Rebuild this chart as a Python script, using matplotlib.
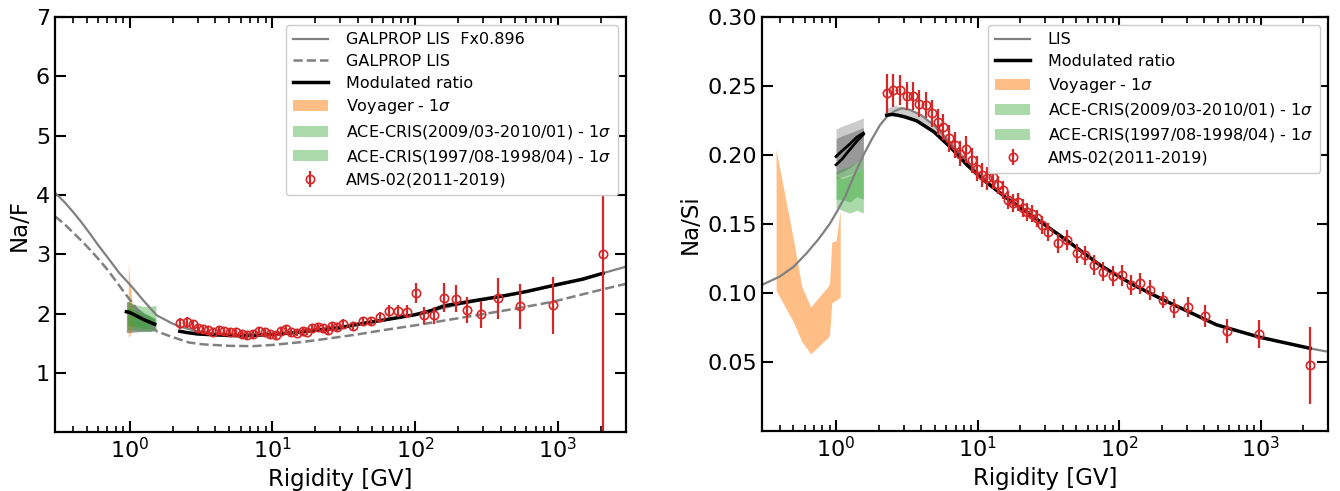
import matplotlib
matplotlib.use('Agg')
import matplotlib.pyplot as plt
import numpy as np

# ---------------- Na/F panel ----------------
lisF_r = [0.3, 0.35, 0.4, 0.46, 0.527, 0.6, 0.7, 0.85, 1.04, 1.25, 1.55, 2.0, 2.25, 3, 4, 6, 10, 20, 50, 100, 200, 500, 1000, 2000, 3000]
lisF_scaled = [4.04, 3.88, 3.72, 3.54, 3.35, 3.16, 2.95, 2.68, 2.45, 2.22, 1.97, 1.83, 1.78, 1.70, 1.66, 1.64, 1.65, 1.72, 1.85, 1.98, 2.15, 2.33, 2.48, 2.67, 2.79]

lisF_dash_r = [0.3, 0.35, 0.4, 0.46, 0.527, 0.6, 0.7, 0.95, 1.25, 1.55, 1.96, 2.62, 3.28, 5, 7.35, 10, 16.3, 25, 40, 60, 100, 232, 500, 929, 2080, 3000]
lisF_dash = [3.64, 3.51, 3.37, 3.23, 3.08, 2.93, 2.74, 2.31, 1.93, 1.70, 1.61, 1.51, 1.48, 1.455, 1.45, 1.47, 1.52, 1.58, 1.65, 1.72, 1.80, 1.945, 2.08, 2.20, 2.41, 2.50]

modF_r = [2.25, 2.6, 3, 4, 5, 6, 8, 10, 13, 16, 20, 25, 30, 40, 50, 60, 80, 100, 130, 160, 200, 250, 400, 600, 1000, 1500, 2080]
modF = [1.70, 1.675, 1.655, 1.64, 1.63, 1.625, 1.635, 1.65, 1.67, 1.69, 1.72, 1.74, 1.76, 1.82, 1.86, 1.89, 1.94, 1.98, 2.05, 2.13, 2.17, 2.21, 2.29, 2.37, 2.49, 2.58, 2.68]

# modulated ratio at ACE energies
aceF_r = [0.95, 1.0, 1.1, 1.25, 1.4, 1.5]
aceF_mod = [2.03, 2.02, 1.97, 1.90, 1.85, 1.82]
aceF_gray_lo = [1.68, 1.68, 1.69, 1.70, 1.70, 1.71]
aceF_gray_hi = [2.20, 2.20, 2.12, 2.02, 1.95, 1.90]

aceF_band_r = [0.97, 1.1, 1.25, 1.4, 1.53]
aceF_a_lo = [1.72, 1.72, 1.70, 1.70, 1.72]
aceF_a_hi = [2.10, 2.05, 2.00, 1.96, 1.92]
aceF_b_lo = [1.80, 1.78, 1.75, 1.74, 1.73]
aceF_b_hi = [2.20, 2.15, 2.12, 2.12, 2.14]

voyF_r = [0.98, 1.0, 1.04]
voyF_lo = [1.60, 1.62, 1.75]
voyF_hi = [2.87, 2.60, 2.20]

amsF_r = [2.25, 2.51, 2.77, 3.03, 3.28, 3.56, 3.86, 4.25, 4.58, 5.05, 5.56, 6.1, 6.67, 7.35, 8.1,
          8.87, 9.6, 10.6, 11.6, 12.4, 13.6, 14.8, 16.3, 17.5, 19.1, 21.0, 22.7, 24.4, 26.3, 28.5,
          31.5, 36.8, 43, 49.5, 57, 66, 76, 87.5, 101, 116, 136, 160, 193, 232, 292, 382, 548, 929, 2080]
amsF = [1.833, 1.850, 1.816, 1.749, 1.732, 1.72, 1.692, 1.72, 1.703, 1.692, 1.687, 1.653, 1.636, 1.647, 1.709,
        1.687, 1.647, 1.636, 1.703, 1.732, 1.687, 1.675, 1.703, 1.692, 1.76, 1.78, 1.75, 1.715, 1.79, 1.77,
        1.83, 1.79, 1.88, 1.87, 1.945, 2.04, 2.04, 2.03, 2.34, 1.97, 1.97, 2.27, 2.25, 2.06, 1.985, 2.255, 2.125, 2.142, 3.01]
amsF_err = [0.10, 0.09, 0.08, 0.07, 0.06, 0.06, 0.06, 0.06, 0.06, 0.06, 0.06, 0.06, 0.06, 0.06, 0.06,
            0.06, 0.06, 0.06, 0.06, 0.06, 0.06, 0.06, 0.06, 0.06, 0.06, 0.06, 0.06, 0.06, 0.07, 0.07,
            0.07, 0.07, 0.07, 0.07, 0.08, 0.10, 0.10, 0.11, 0.17, 0.14, 0.14, 0.24, 0.225, 0.225, 0.225, 0.34, 0.38, 0.48, 3.0]

# ---------------- Na/Si panel ----------------
lisS_r = [0.3, 0.4, 0.5, 0.62, 0.75, 0.9, 1.0, 1.16, 1.35, 1.56, 1.8, 2.05, 2.3, 2.6, 2.9, 3.3, 4, 5, 6.4, 8.4,
          11, 16, 25, 43, 74, 126, 217, 490, 990, 2240, 3000]
lisS = [0.106, 0.112, 0.119, 0.129, 0.139, 0.150, 0.158, 0.170, 0.186, 0.200, 0.212, 0.222, 0.228, 0.232, 0.234,
        0.233, 0.229, 0.221, 0.209, 0.195, 0.183, 0.1695, 0.1555, 0.1385, 0.1203, 0.1058, 0.0937, 0.0768, 0.0679, 0.0599, 0.0575]

modS_r = [2.28, 2.5, 2.7, 3.0, 3.7, 4.9, 6.4, 8.4, 11, 16, 25, 43, 74, 126, 217, 490, 990, 2240]
modS = [0.229, 0.2295, 0.229, 0.228, 0.225, 0.217, 0.206, 0.193, 0.182, 0.169, 0.155, 0.138, 0.120, 0.106, 0.094, 0.077, 0.068, 0.060]

modS_band_r = [2.28, 2.6, 3.0, 3.7, 4.9, 6.4, 8.4, 11, 16]
modS_band_lo = [0.229, 0.2295, 0.228, 0.225, 0.217, 0.206, 0.193, 0.182, 0.169]
modS_band_hi = [0.234, 0.236, 0.235, 0.231, 0.223, 0.211, 0.197, 0.185, 0.170]

aceS_r = [1.0, 1.1, 1.25, 1.4, 1.56]
aceS_mod_a = [0.199, 0.203, 0.208, 0.213, 0.216]
aceS_mod_b = [0.193, 0.197, 0.204, 0.210, 0.215]
aceS_light_lo = [0.183, 0.184, 0.186, 0.188, 0.190]
aceS_light_hi = [0.219, 0.221, 0.223, 0.225, 0.227]
aceS_dark_lo = [0.186, 0.188, 0.191, 0.195, 0.198]
aceS_dark_hi = [0.212, 0.214, 0.216, 0.218, 0.220]
aceS_a_lo = [0.162, 0.160, 0.158, 0.160, 0.158]
aceS_a_hi = [0.185, 0.183, 0.185, 0.188, 0.190]
aceS_b_lo = [0.168, 0.168, 0.166, 0.170, 0.168]
aceS_b_hi = [0.188, 0.190, 0.192, 0.195, 0.198]

voyS_r = [0.377, 0.50, 0.572, 0.662, 0.88, 0.90, 0.933, 1.0, 1.07]
voyS_hi = [0.204, 0.139, 0.105, 0.090, 0.105, 0.107, 0.137, 0.138, 0.160]
voyS_lo = [0.102, 0.079, 0.065, 0.056, 0.068, 0.070, 0.093, 0.095, 0.097]

amsS_r = [2.28, 2.54, 2.83, 3.16, 3.52, 3.88, 4.33, 4.75, 5.29, 5.73, 6.32, 6.93, 7.52, 8.29, 9.10, 9.87,
          10.7, 11.6, 12.8, 14.0, 15.1, 16.5, 17.9, 19.4, 21.1, 22.2, 24.1, 26.2, 28.4, 31.7, 37.3, 42.7,
          50.2, 57.5, 67.0, 77.5, 90.3, 104.5, 121.6, 140.8, 166, 204, 245, 309, 406, 577, 982, 2240]
amsS = [0.2447, 0.2471, 0.2471, 0.2428, 0.2428, 0.2374, 0.2362, 0.2302, 0.2242, 0.2205, 0.2121, 0.2072, 0.2012, 0.2041, 0.1964, 0.1903,
        0.1855, 0.1831, 0.1843, 0.1783, 0.1746, 0.1674, 0.1650, 0.1662, 0.1614, 0.1590, 0.1577, 0.1541, 0.1493, 0.1444, 0.1360, 0.1384,
        0.1288, 0.1275, 0.1203, 0.1155, 0.1123, 0.1130, 0.1058, 0.1070, 0.1022, 0.0949, 0.0889, 0.0901, 0.0833, 0.0725, 0.0703, 0.0478]
amsS_err = [0.014, 0.012, 0.011, 0.010, 0.010, 0.0095, 0.0095, 0.0095, 0.0095, 0.0095, 0.0095, 0.0095, 0.009, 0.0095, 0.009, 0.009,
            0.0085, 0.0085, 0.0085, 0.0065, 0.0065, 0.0065, 0.0065, 0.0065, 0.0065, 0.0065, 0.0065, 0.0065, 0.0065, 0.0065, 0.007, 0.007,
            0.007, 0.007, 0.007, 0.007, 0.007, 0.0075, 0.0075, 0.0075, 0.0075, 0.006, 0.0066, 0.0072, 0.008, 0.0085, 0.0103, 0.028]

RED = '#d62728'

fig = plt.figure(figsize=(13.4, 4.91), dpi=100)
ax1 = fig.add_axes([0.041, 0.120, 0.426, 0.845])
ax2 = fig.add_axes([0.5687, 0.122, 0.4224, 0.843])


def style(ax):
    ax.set_xscale('log')
    ax.set_xlim(0.3, 3000)
    ax.tick_params(which='both', direction='in', top=True, right=True, labelsize=16)
    ax.tick_params(which='major', length=8, width=1.5)
    ax.tick_params(which='minor', length=4, width=1.2)
    for s in ax.spines.values():
        s.set_linewidth(1.6)
    ax.set_xlabel('Rigidity [GV]', fontsize=16.5)


leg_kw = dict(loc='upper right', fontsize=11.5, handletextpad=1.1, handlelength=2.2,
              labelspacing=0.42, borderpad=0.45, framealpha=1)

# ---- left ----
ax1.plot(lisF_r, lisF_scaled, color='gray', lw=1.6, label='GALPROP LIS  Fx0.896')
ax1.plot(lisF_dash_r, lisF_dash, color='gray', lw=1.8, ls='--', label='GALPROP LIS')
ax1.plot(modF_r, modF, color='k', lw=2.5, label='Modulated ratio')
ax1.fill_between(aceF_r, aceF_gray_lo, aceF_gray_hi, color='k', alpha=0.4, lw=0)
ax1.fill_between(voyF_r, voyF_lo, voyF_hi, color='tab:orange', alpha=0.5, lw=0, label='Voyager - 1$\\sigma$')
ax1.fill_between(aceF_band_r, aceF_a_lo, aceF_a_hi, color='tab:green', alpha=0.4, lw=0,
                 label='ACE-CRIS(2009/03-2010/01) - 1$\\sigma$')
ax1.fill_between(aceF_band_r, aceF_b_lo, aceF_b_hi, color='tab:green', alpha=0.4, lw=0,
                 label='ACE-CRIS(1997/08-1998/04) - 1$\\sigma$')
ax1.plot(aceF_r, aceF_mod, color='k', lw=2.5)
ax1.errorbar(amsF_r, amsF, yerr=amsF_err, fmt='o', color=RED, mfc='none', ms=6, mew=1.2,
             elinewidth=1.6, capsize=0, label='AMS-02(2011-2019)')
style(ax1)
ax1.set_ylim(0, 7)
ax1.set_yticks([1, 2, 3, 4, 5, 6, 7])
ax1.set_ylabel('Na/F', fontsize=16.5)
leg1 = ax1.legend(**leg_kw)
leg1.set_zorder(10)

# ---- right ----
ax2.plot(lisS_r, lisS, color='gray', lw=1.6, label='LIS')
ax2.plot(modS_r, modS, color='k', lw=2.5, label='Modulated ratio')
ax2.fill_between(modS_band_r, modS_band_lo, modS_band_hi, color='k', alpha=0.2, lw=0)
ax2.fill_between(voyS_r, voyS_lo, voyS_hi, color='tab:orange', alpha=0.5, lw=0, label='Voyager - 1$\\sigma$')
ax2.fill_between(aceS_r, aceS_light_lo, aceS_light_hi, color='k', alpha=0.2, lw=0)
ax2.fill_between(aceS_r, aceS_dark_lo, aceS_dark_hi, color='k', alpha=0.25, lw=0)
ax2.fill_between(aceS_r, aceS_a_lo, aceS_a_hi, color='tab:green', alpha=0.4, lw=0,
                 label='ACE-CRIS(2009/03-2010/01) - 1$\\sigma$')
ax2.fill_between(aceS_r, aceS_b_lo, aceS_b_hi, color='tab:green', alpha=0.4, lw=0,
                 label='ACE-CRIS(1997/08-1998/04) - 1$\\sigma$')
ax2.plot(aceS_r, aceS_mod_a, color='k', lw=2)
ax2.plot(aceS_r, aceS_mod_b, color='k', lw=2)
ax2.errorbar(amsS_r, amsS, yerr=amsS_err, fmt='o', color=RED, mfc='none', ms=6, mew=1.2,
             elinewidth=1.6, capsize=0, label='AMS-02(2011-2019)')
style(ax2)
ax2.set_ylim(0, 0.30)
ax2.set_yticks([0.05, 0.10, 0.15, 0.20, 0.25, 0.30])
ax2.set_yticklabels(['0.05', '0.10', '0.15', '0.20', '0.25', '0.30'])
ax2.set_ylabel('Na/Si', fontsize=16.5)
ax2.legend(**leg_kw)

fig.savefig('out.png', dpi=100)
